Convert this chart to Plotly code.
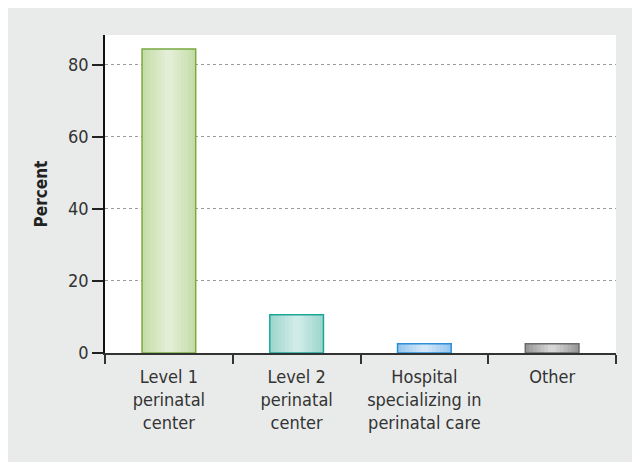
import plotly.graph_objects as go

CATEGORIES = ["Level 1<br>perinatal<br>center", "Level 2<br>perinatal<br>center",
              "Hospital<br>specializing in<br>perinatal care", "Other"]
PERCENT = [84.4, 10.6, 2.6, 2.6]
TICKS = [0, 20, 40, 60, 80]

EDGE = ["#c6ddaa", "#9fd6cf", "#98c8ee", "#999999"]
CENTER = ["#e3eed6", "#d0ece8", "#d3e6f9", "#d6d6d6"]
OUTLINE = ["#7aa941", "#1aa79a", "#2a8ed6", "#6a6a6a"]

FONT = "DejaVu Sans Condensed, Liberation Sans Narrow, sans-serif"
BAR_W = 0.42
LAYERS = 7


def mix(a, b, t):
    ca = [int(a[i:i + 2], 16) for i in (1, 3, 5)]
    cb = [int(b[i:i + 2], 16) for i in (1, 3, 5)]
    return "rgb(%d,%d,%d)" % tuple(round(x + (y - x) * t) for x, y in zip(ca, cb))


fig = go.Figure()

# fake a horizontal gradient: stacked overlay bars getting narrower and lighter
for k in range(LAYERS):
    t = k / (LAYERS - 1)
    fig.add_trace(go.Bar(
        x=CATEGORIES, y=PERCENT,
        width=BAR_W * (1 - 0.85 * t),
        marker=dict(color=[mix(e, c, t) for e, c in zip(EDGE, CENTER)],
                    line=dict(width=0)),
        hoverinfo="skip", showlegend=False))

fig.add_trace(go.Bar(
    x=CATEGORIES, y=PERCENT, width=BAR_W,
    marker=dict(color="rgba(0,0,0,0)", line=dict(color=OUTLINE, width=1.5)),
    showlegend=False))

# page body has an 8px margin, margins below are compensated for that
fig.update_layout(
    width=640, height=462,
    barmode="overlay",
    paper_bgcolor="#e9ebea", plot_bgcolor="white",
    margin=dict(l=97, r=32, t=27, b=117),
    font=dict(family=FONT, size=18, color="#333333"),
)
fig.update_xaxes(
    type="category", range=[-0.5, 3.5],
    tickson="boundaries", ticks="outside", ticklen=9, tickwidth=1.5,
    tickcolor="#333333", showline=True, linecolor="#333333", linewidth=2,
    showgrid=False, tickfont=dict(size=18), ticklabelstandoff=6,
)
fig.update_yaxes(
    range=[0, 88.3], tickvals=TICKS,
    ticks="outside", ticklen=11, tickwidth=1.5, tickcolor="#222222",
    showline=True, linecolor="#111111", linewidth=1.5,
    showgrid=True, gridcolor="#9a9a9a", griddash="dot", gridwidth=1,
    zeroline=False, tickfont=dict(size=18),
    title=dict(text="<b>Percent</b>", font=dict(size=17, color="#222222"),
               standoff=16),
)

fig.write_html("out.html")
